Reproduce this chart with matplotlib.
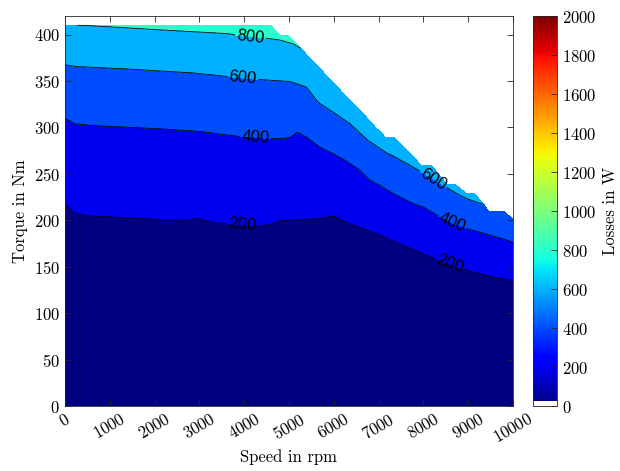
import numpy as np
import matplotlib
matplotlib.use('Agg')
import matplotlib.pyplot as plt
import matplotlib.colors as mcolors
import matplotlib.cm as cm

plt.rcParams['font.family'] = ['cmr10']
plt.rcParams['axes.formatter.use_mathtext'] = True
plt.rcParams['mathtext.fontset'] = 'cm'

# Full-load envelope (speed in rpm, max torque in Nm)
env_speed = [0, 4610, 4800, 4985, 5313, 7165, 7370, 7960, 8185, 8520, 8700, 8970, 9150, 9490, 9820, 10000]
env_torque = [410, 410, 399, 399, 383, 289, 289, 259, 259, 239, 239, 229, 229, 209, 209, 201]

iso200_speed = [0, 200, 480, 1380, 2120, 2720, 2980, 3310, 3610, 4000, 4350, 4580, 4800, 5020, 5620, 5990,
                6360, 6960, 7550, 8070, 8500, 8970, 9560, 10000]
iso200_torque = [218, 208, 205, 203, 201, 200, 201.8, 197.5, 196.5, 195, 194, 195.3, 200, 200, 201.8, 204.6,
                 196.4, 185.7, 173.1, 162.4, 155, 146.2, 139, 135.5]

iso400_speed = [0, 220, 630, 2120, 3010, 3830, 4300, 4720, 5020, 5190, 5390, 5690, 6175, 6585, 6810, 7030,
                7320, 7770, 8000, 8500, 8970, 9640, 10000]
iso400_torque = [310, 304, 302, 298.6, 295.7, 290.6, 289, 287.8, 289, 295, 289.6, 278.8, 267, 254, 243, 237.6,
                 229, 218, 214.3, 200, 191, 182, 176.7]

iso600_speed = [0, 260, 1380, 2860, 3610, 4000, 4350, 5020, 5390, 5650, 6030, 6360, 6760, 7180, 7370, 7630,
                8200, 8590, 8970, 9410, 9700, 10000]
iso600_torque = [367.4, 365.6, 363, 358.7, 355, 353, 351.6, 349.5, 343.4, 327, 315, 304, 286, 272.5, 268, 261,
                 245, 233, 223, 216, 213, 208]

iso800_speed = [0, 560, 2120, 3610, 4130, 4500, 4800, 5090, 5400]
iso800_torque = [410.5, 409.5, 405, 401, 397.5, 396, 394, 390, 381]

levels = [0, 200, 400, 600, 800, 1000, 1200, 1400, 1600, 1800, 2000]
cbar_ticks = [0, 200, 400, 600, 800, 1000, 1200, 1400, 1600, 1800, 2000]

# build the loss map on a regular grid from the iso curves
speed = np.linspace(0, 10000, 501)
torque = np.linspace(0, 420, 841)
S, T = np.meshgrid(speed, torque)
L = np.full(S.shape, np.nan)
for j, s in enumerate(speed):
    t2 = np.interp(s, iso200_speed, iso200_torque)
    t4 = np.interp(s, iso400_speed, iso400_torque)
    t6 = np.interp(s, iso600_speed, iso600_torque)
    t8 = np.interp(s, iso800_speed, iso800_torque)
    col = np.interp(torque, [0, t2, t4, t6, t8, t8 + 100], [100, 200, 400, 600, 800, 950])
    col[torque > np.interp(s, env_speed, env_torque)] = np.nan
    L[:, j] = col

jet = plt.get_cmap('jet')
fill_colors = [jet(lv / 2000) for lv in levels[:-1]]

fig = plt.figure(figsize=(6.2, 4.71), dpi=100)
ax = fig.add_axes([0.1048, 0.138, 0.7226, 0.828])
cax = fig.add_axes([0.86, 0.138, 0.0387, 0.828])

ax.contourf(S, T, L, levels=levels, colors=fill_colors)
cs = ax.contour(S, T, L, levels=[200, 400, 600, 800], colors='k', linewidths=0.6)
label_pos = [(3950, 196), (8600, 155), (4250, 289), (8640, 197), (3970, 353), (8210, 243), (4130, 397)]
labels = ax.clabel(cs, inline=True, fontsize=12, fmt='%d', manual=label_pos, inline_spacing=3)
for t in labels:
    t.set_fontfamily('Liberation Sans')

ax.set_xlim(0, 10000)
ax.set_ylim(0, 420)
ax.set_xticks(range(0, 10001, 1000))
ax.set_yticks(range(0, 401, 50))
ax.tick_params(direction='in', top=True, right=True, labelsize=12, length=4, width=0.6,
               color='0.15')
for lab in ax.get_xticklabels():
    lab.set_rotation(30)
    lab.set_ha('center')
for sp in ax.spines.values():
    sp.set_color('0.15')
    sp.set_linewidth(0.6)
ax.set_xlabel('Speed in rpm', fontsize=12, labelpad=2)
ax.set_ylabel('Torque in Nm', fontsize=12)

cb_colors = jet(np.linspace(0, 1, 256))
cb_colors[:3] = [1, 1, 1, 1]
cb_cmap = mcolors.ListedColormap(cb_colors)
sm = cm.ScalarMappable(norm=mcolors.Normalize(0, 2000), cmap=cb_cmap)
cb = fig.colorbar(sm, cax=cax, ticks=cbar_ticks)
cb.outline.set_edgecolor('0.15')
cb.outline.set_linewidth(0.6)
cax.tick_params(direction='in', labelsize=12, length=4, width=0.6, color='0.15')
cb.set_label('Losses in W', fontsize=12, labelpad=4)

fig.savefig('out.png', dpi=100)
